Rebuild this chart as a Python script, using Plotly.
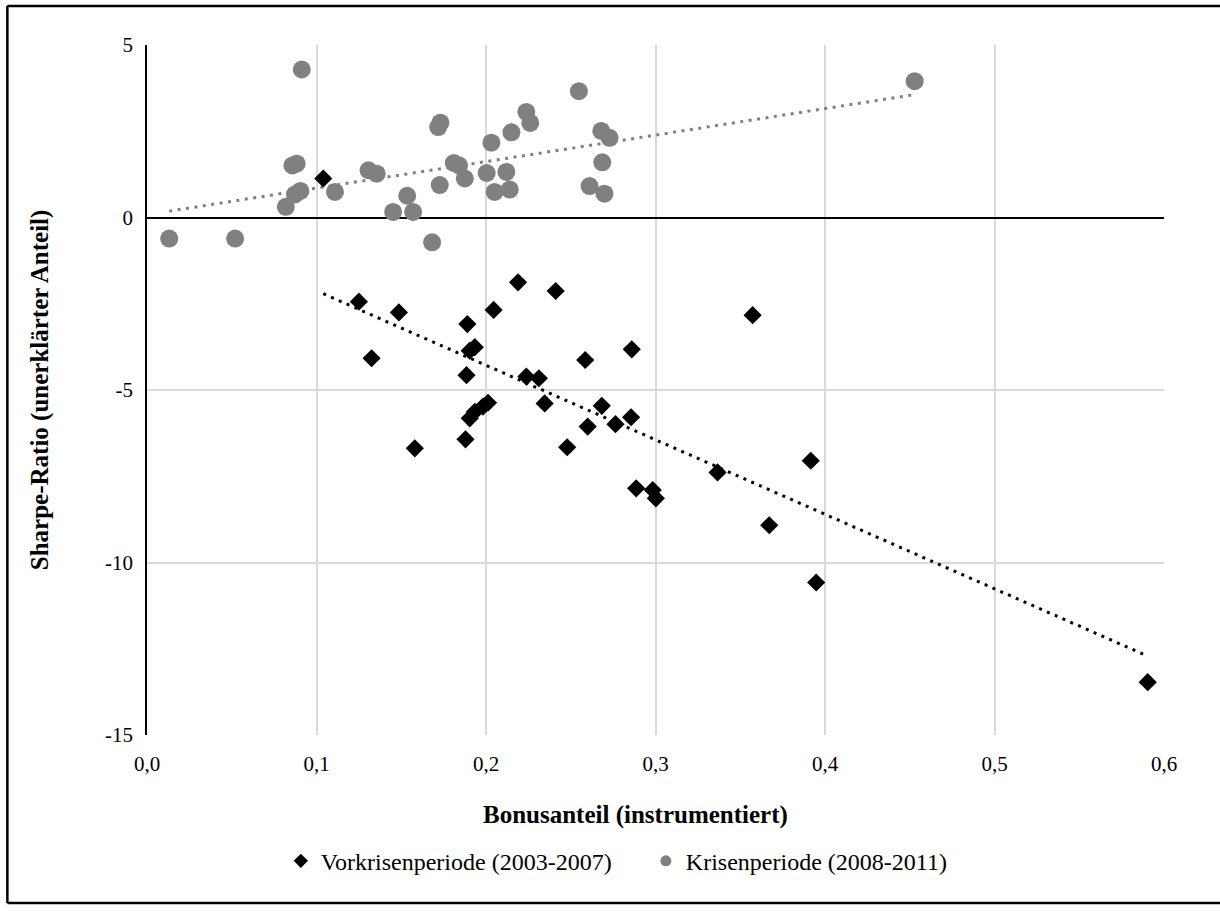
import numpy as np
import plotly.graph_objects as go

# ---------------- data ----------------
vor_x = [0.104, 0.125, 0.1486, 0.1325, 0.2189, 0.2045, 0.189, 0.1934, 0.1904, 0.1885,
         0.2238, 0.2312, 0.2346, 0.2012, 0.1982, 0.1934, 0.1904, 0.1879, 0.158, 0.2411,
         0.3573, 0.286, 0.2585, 0.2683, 0.2856, 0.2764, 0.26, 0.2479, 0.3366, 0.3916,
         0.2886, 0.2984, 0.3002, 0.3671, 0.3948, 0.5904]
vor_y = [1.13, -2.44, -2.75, -4.08, -1.88, -2.68, -3.09, -3.76, -3.86, -4.57,
         -4.61, -4.66, -5.39, -5.37, -5.48, -5.63, -5.82, -6.43, -6.69, -2.13,
         -2.83, -3.82, -4.13, -5.46, -5.79, -5.99, -6.06, -6.66, -7.39, -7.05,
         -7.85, -7.90, -8.14, -8.92, -10.58, -13.47]

kri_x = [0.0131, 0.052, 0.0913, 0.1718, 0.1731, 0.0858, 0.0883, 0.0905, 0.0873, 0.0819,
         0.1109, 0.1307, 0.1355, 0.1535, 0.1452, 0.157, 0.1682, 0.1727, 0.181, 0.1841,
         0.1875, 0.2032, 0.2004, 0.212, 0.2051, 0.214, 0.215, 0.2238, 0.2261, 0.2548,
         0.268, 0.2729, 0.2686, 0.2611, 0.2699, 0.4529]
kri_y = [-0.61, -0.61, 4.29, 2.62, 2.75, 1.51, 1.56, 0.77, 0.67, 0.31,
         0.74, 1.37, 1.27, 0.63, 0.16, 0.16, -0.72, 0.94, 1.58, 1.51,
         1.13, 2.17, 1.29, 1.32, 0.74, 0.81, 2.47, 3.06, 2.74, 3.66,
         2.51, 2.31, 1.60, 0.91, 0.69, 3.95]

name_vor = "Vorkrisenperiode (2003-2007)"
name_kri = "Krisenperiode (2008-2011)"

x_tickvals = [0.0, 0.1, 0.2, 0.3, 0.4, 0.5, 0.6]
x_ticktext = ["0,0", "0,1", "0,2", "0,3", "0,4", "0,5", "0,6"]
y_tickvals = [5, 0, -5, -10, -15]
y_ticktext = ["5", "0", "-5", "-10", "-15"]

x_title = "Bonusanteil (instrumentiert)"
y_title = "Sharpe-Ratio (unerklärter Anteil)"

# ---------------- figure ----------------
FONT = "Liberation Serif, Times New Roman, serif"
GREY = "#808080"

def trend(xs, ys):
    xs = np.asarray(xs); ys = np.asarray(ys)
    m, b = np.polyfit(xs, ys, 1)
    xx = np.array([xs.min(), xs.max()])
    return xx, m * xx + b

fig = go.Figure()

tx, ty = trend(kri_x, kri_y)
fig.add_trace(go.Scatter(x=tx, y=ty, mode="lines", showlegend=False, hoverinfo="skip",
                         line=dict(color=GREY, width=3, dash="3px,5.5px")))
tx, ty = trend(vor_x, vor_y)
fig.add_trace(go.Scatter(x=tx, y=ty, mode="lines", showlegend=False, hoverinfo="skip",
                         line=dict(color="black", width=3, dash="3px,5.5px")))

fig.add_trace(go.Scatter(x=kri_x, y=kri_y, mode="markers", showlegend=False,
                         marker=dict(symbol="circle", size=18, color=GREY, line=dict(width=0))))
fig.add_trace(go.Scatter(x=vor_x, y=vor_y, mode="markers", showlegend=False,
                         marker=dict(symbol="diamond", size=14, color="black", line=dict(width=0))))

# legend entries
fig.add_trace(go.Scatter(x=[None], y=[None], mode="markers", name=name_vor,
                         marker=dict(symbol="diamond", size=11, color="black")))
fig.add_trace(go.Scatter(x=[None], y=[None], mode="markers", name=name_kri,
                         marker=dict(symbol="circle", size=11, color=GREY)))

fig.update_layout(
    width=1220, height=912,
    margin=dict(l=147, r=56, t=45, b=177),
    paper_bgcolor="white", plot_bgcolor="white",
    font=dict(family=FONT, size=21, color="black"),
    showlegend=True,
    legend=dict(orientation="h", x=0.4905, xanchor="center", y=-0.183, yanchor="middle",
                font=dict(size=24), itemsizing="trace", itemwidth=30, entrywidth=320,
                bgcolor="rgba(0,0,0,0)"),
    xaxis=dict(range=[0, 0.6], tickvals=x_tickvals, ticktext=x_ticktext,
               showgrid=True, gridcolor="#D9D9D9", gridwidth=1.5,
               zeroline=False, showline=False, ticks="", ticklabelstandoff=14,
               tickfont=dict(size=21)),
    yaxis=dict(range=[-15, 5], tickvals=y_tickvals, ticktext=y_ticktext,
               showgrid=True, gridcolor="#D9D9D9", gridwidth=1.5,
               zeroline=True, zerolinecolor="black", zerolinewidth=1.5,
               showline=True, linecolor="black", linewidth=1.5, ticks="",
               ticklabelstandoff=8, tickfont=dict(size=21)),
)

# axis titles
fig.add_annotation(text="<b>" + x_title + "</b>", xref="paper", yref="paper",
                   x=0.48, y=-0.116, xanchor="center", yanchor="middle",
                   showarrow=False, font=dict(size=25, family=FONT))
fig.add_annotation(text="<b>" + y_title + "</b>", xref="paper", yref="paper",
                   x=-0.105, y=0.5, xanchor="center", yanchor="middle", textangle=-90,
                   showarrow=False, font=dict(size=25, family=FONT))

# outer frame (left, top, bottom; right edge is cut off in the picture)
frame = dict(color="black", width=2.5)
fig.add_shape(type="line", xref="paper", yref="paper", x0=-0.1373, x1=-0.1373,
              y0=-0.2435, y1=1.0565, line=frame, layer="above")
fig.add_shape(type="line", xref="paper", yref="paper", x0=-0.1373, x1=1.2,
              y0=1.0565, y1=1.0565, line=frame, layer="above")
fig.add_shape(type="line", xref="paper", yref="paper", x0=-0.1373, x1=1.2,
              y0=-0.2435, y1=-0.2435, line=frame, layer="above")

fig.write_html("out.html")
